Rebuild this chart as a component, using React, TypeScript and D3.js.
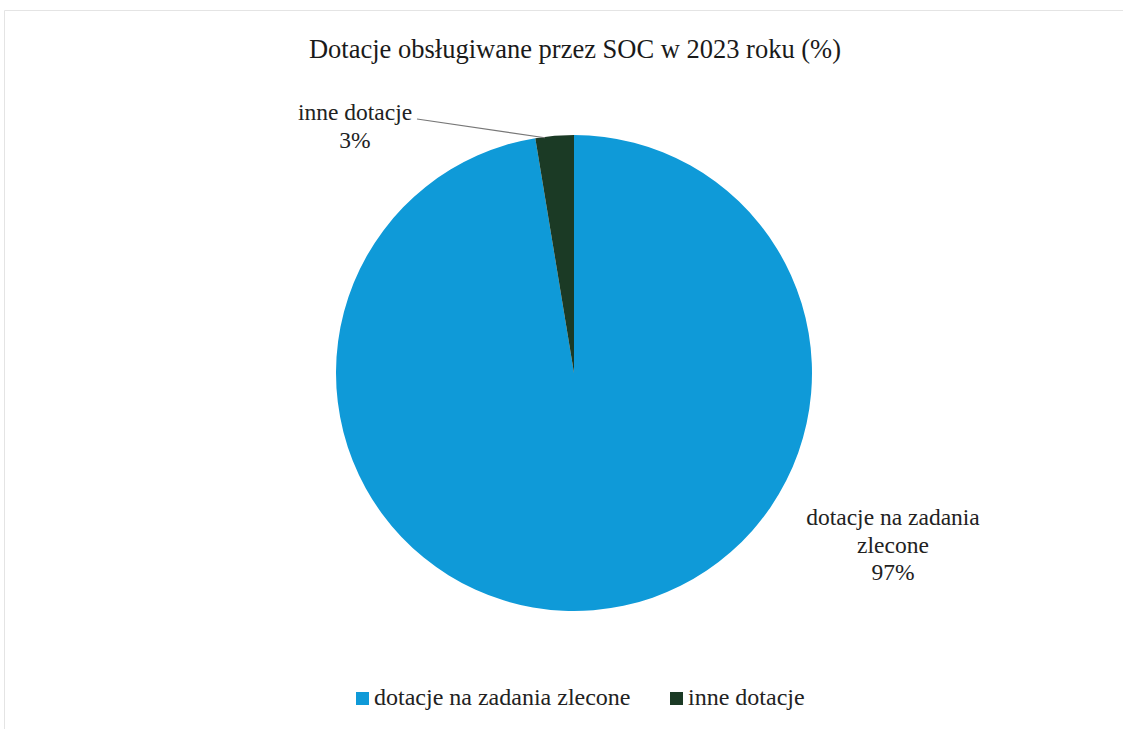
import React, { useEffect, useRef } from "react";
import * as d3 from "d3";

const categories = ["dotacje na zadania zlecone", "inne dotacje"];
const values = [97.4, 2.6];
const labels = ["97%", "3%"];
const colors = ["#0f9ad8", "#1b3a25"];

const W = 1131;
const H = 729;

const App: React.FC = () => {
  const svgRef = useRef<SVGSVGElement | null>(null);

  useEffect(() => {
    const svg = d3.select(svgRef.current);
    svg.selectAll("*").remove();
    svg.attr("width", W).attr("height", H);

    const font = "Liberation Serif, Times New Roman, DejaVu Serif, serif";

    svg.append("rect").attr("width", W).attr("height", H).attr("fill", "#fff");
    // faint frame
    svg.append("path")
      .attr("d", `M4.5,${H} V10.5 H${W - 8}`)
      .attr("fill", "none")
      .attr("stroke", "#e4e4e4")
      .attr("stroke-width", 1);

    svg.append("text")
      .attr("x", 575)
      .attr("y", 58)
      .attr("text-anchor", "middle")
      .attr("font-family", font)
      .attr("font-size", 26.5)
      .attr("fill", "#1a1a1a")
      .text("Dotacje obsługiwane przez SOC w 2023 roku (%)");

    const cx = 574;
    const cy = 373;
    const radius = 238;

    const data = categories.map((c, i) => ({ name: c, value: values[i], label: labels[i], color: colors[i] }));
    type D = (typeof data)[number];

    const pie = d3.pie<D>().value(d => d.value).sort(null);
    const arc = d3.arc<d3.PieArcDatum<D>>().innerRadius(0).outerRadius(radius);
    const arcs = pie(data);

    const g = svg.append("g").attr("transform", `translate(${cx},${cy})`);
    g.selectAll("path")
      .data(arcs)
      .join("path")
      .attr("d", arc)
      .attr("fill", d => d.data.color);

    // labels
    const lbl = (x: number, y: number, lines: string[]) => {
      const t = svg.append("text")
        .attr("text-anchor", "middle")
        .attr("font-family", font)
        .attr("font-size", 23.5)
        .attr("fill", "#222");
      lines.forEach((l, i) => {
        t.append("tspan").attr("x", x).attr("y", y + i * 27.5).text(l);
      });
    };

    lbl(893, 525, ["dotacje na zadania", "zlecone", labels[0]]);
    lbl(355, 120, ["inne dotacje", labels[1]]);

    // leader line for small slice
    const small = arcs[1];
    const ex = cx + Math.sin(small.startAngle + 0.25 * (small.endAngle - small.startAngle)) * (radius - 1);
    const ey = cy - Math.cos(small.startAngle + 0.25 * (small.endAngle - small.startAngle)) * (radius - 1);
    svg.append("line")
      .attr("x1", 417).attr("y1", 119)
      .attr("x2", ex).attr("y2", ey)
      .attr("stroke", "#777")
      .attr("stroke-width", 1.2);

    // legend
    const legend = svg.append("g");
    const items = [
      { x: 356, name: categories[0], color: colors[0] },
      { x: 670, name: categories[1], color: colors[1] },
    ];
    items.forEach(it => {
      legend.append("rect")
        .attr("x", it.x).attr("y", 692)
        .attr("width", 13).attr("height", 13)
        .attr("fill", it.color);
      legend.append("text")
        .attr("x", it.x + 18).attr("y", 705)
        .attr("font-family", font)
        .attr("font-size", 24)
        .attr("fill", "#222")
        .text(it.name);
    });
  }, []);

  return <svg ref={svgRef} style={{ position: "absolute", left: 0, top: 0, display: "block" }}></svg>;
};

export default App;
